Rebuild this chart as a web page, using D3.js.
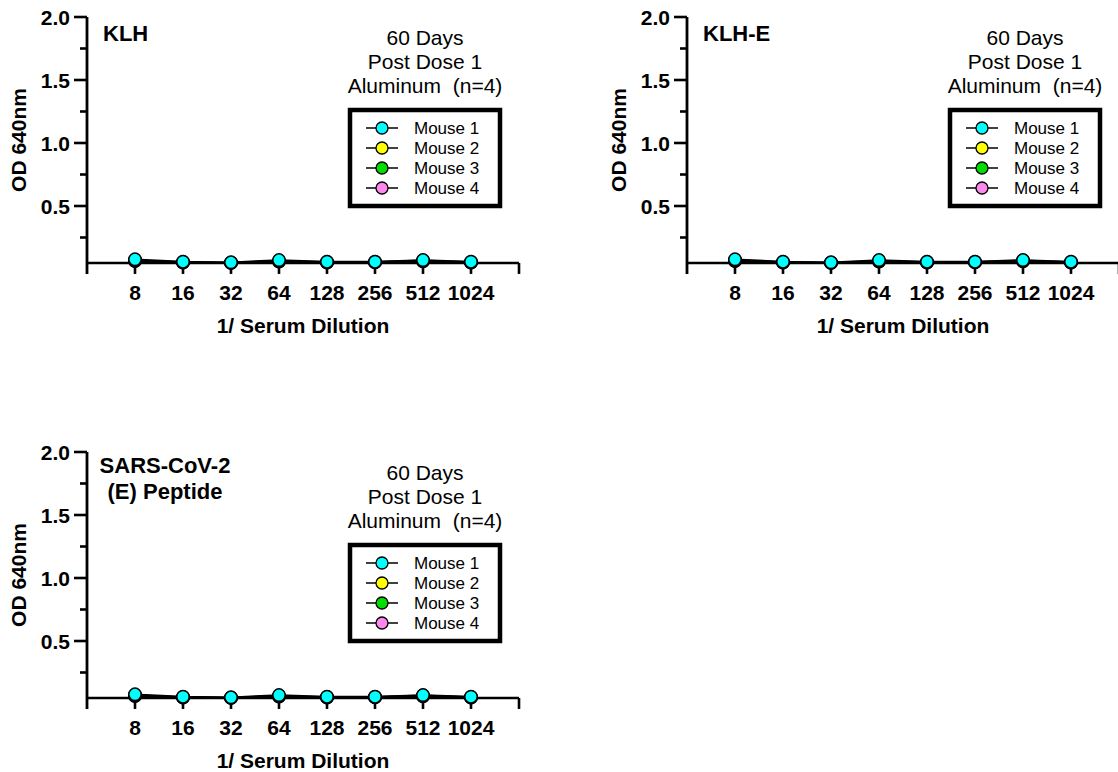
<!DOCTYPE html>
<html>
<head>
<meta charset="utf-8">
<script src="https://cdn.jsdelivr.net/npm/d3@7"></script>
<style>
  body { margin: 0; background: #fff; }
  svg text { font-family: Arial, "Liberation Sans", sans-serif; fill: #000; }
</style>
</head>
<body>
<svg id="chart" width="1118" height="772"></svg>
<script>
"use strict";

/* ── Data ─────────────────────────────────────────────── */
const dilutions = ["8", "16", "32", "64", "128", "256", "512", "1024"];
const yTicks = [0.5, 1.0, 1.5, 2.0];
const yMinorTicks = [0.25, 0.75, 1.25, 1.75];

const mouse1 = [0.077, 0.058, 0.053, 0.071, 0.058, 0.058, 0.071, 0.058];
const mouse2 = [0.070, 0.055, 0.050, 0.065, 0.055, 0.056, 0.068, 0.054];
const mouse3 = [0.066, 0.052, 0.049, 0.061, 0.052, 0.054, 0.063, 0.052];
const mouse4 = [0.062, 0.050, 0.048, 0.058, 0.050, 0.052, 0.060, 0.050];

const seriesNames = ["Mouse 1", "Mouse 2", "Mouse 3", "Mouse 4"];
const seriesColors = ["#00ffff", "#ffff00", "#00dd00", "#ff88ee"];
const seriesValues = [mouse1, mouse2, mouse3, mouse4];

const panelTitles = [["KLH"], ["KLH-E"], ["SARS-CoV-2", "(E) Peptide"]];
const noteLines = ["60 Days", "Post Dose 1", "Aluminum  (n=4)"];

/* ── Layout ───────────────────────────────────────────── */
const panelOrigins = [[87, 17], [687, 17], [87, 452]];
const iW = 432;
const xAxisVal = 0.048;

const svg = d3.select("#chart");

const x = d3.scaleLinear().domain([0, 9]).range([0, iW]);
const y = d3.scaleLinear().domain([0, 2]).range([252, 0]);

panelOrigins.forEach((o, pi) => {
  const g = svg.append("g").attr("transform", `translate(${o[0]},${o[1]})`);
  const axY = y(xAxisVal);

  /* Y axis */
  g.append("line")
    .attr("x1", 0).attr("x2", 0)
    .attr("y1", y(2)).attr("y2", axY + 11)
    .attr("stroke", "#000").attr("stroke-width", 2.8);

  g.selectAll(".ymaj").data(yTicks).enter().append("line")
    .attr("x1", -13).attr("x2", 0)
    .attr("y1", (d) => y(d)).attr("y2", (d) => y(d))
    .attr("stroke", "#000").attr("stroke-width", 2.6);

  g.selectAll(".ymin").data(yMinorTicks).enter().append("line")
    .attr("x1", -7).attr("x2", 0)
    .attr("y1", (d) => y(d)).attr("y2", (d) => y(d))
    .attr("stroke", "#000").attr("stroke-width", 2.6);

  g.selectAll(".ylab").data(yTicks).enter().append("text")
    .attr("x", -17).attr("y", (d) => y(d))
    .attr("dy", "0.36em")
    .attr("text-anchor", "end")
    .attr("font-size", 21).attr("font-weight", "bold")
    .text((d) => d.toFixed(1));

  g.append("text")
    .attr("transform", `translate(-61,123) rotate(-90)`)
    .attr("x", 0).attr("y", 0)
    .attr("text-anchor", "middle")
    .attr("font-size", 21).attr("font-weight", "bold")
    .text("OD 640nm");

  /* X axis */
  g.append("line")
    .attr("x1", 0).attr("x2", x(9))
    .attr("y1", axY).attr("y2", axY)
    .attr("stroke", "#000").attr("stroke-width", 2.4);

  g.selectAll(".xt").data(d3.range(1, 10)).enter().append("line")
    .attr("x1", (d) => x(d)).attr("x2", (d) => x(d))
    .attr("y1", axY).attr("y2", axY + 11)
    .attr("stroke", "#000").attr("stroke-width", 2.6);

  g.selectAll(".xlab").data(dilutions).enter().append("text")
    .attr("x", (d, i) => x(i + 1)).attr("y", axY + 37)
    .attr("text-anchor", "middle")
    .attr("font-size", 21).attr("font-weight", "bold")
    .text((d) => d);

  g.append("text")
    .attr("x", 216).attr("y", axY + 70)
    .attr("text-anchor", "middle")
    .attr("font-size", 21).attr("font-weight", "bold")
    .text("1/ Serum Dilution");

  /* Series (Mouse 1 drawn last, on top) */
  const line = d3.line().x((d, i) => x(i + 1)).y((d) => y(d));
  for (let s = seriesValues.length - 1; s >= 0; s--) {
    g.append("path").datum(seriesValues[s])
      .attr("d", line)
      .attr("fill", "none").attr("stroke", "#000").attr("stroke-width", 1.8);
  }
  for (let s = seriesValues.length - 1; s >= 0; s--) {
    g.selectAll(null).data(seriesValues[s]).enter().append("circle")
      .attr("cx", (d, i) => x(i + 1)).attr("cy", (d) => y(d))
      .attr("r", 6.2)
      .attr("fill", seriesColors[s])
      .attr("stroke", "#000").attr("stroke-width", 1.5);
  }

  /* Title */
  const t = panelTitles[pi];
  if (t.length === 1) {
    g.append("text")
      .attr("x", 16).attr("y", 24)
      .attr("font-size", 22).attr("font-weight", "bold")
      .text(t[0]);
  } else {
    g.selectAll(".ttl").data(t).enter().append("text")
      .attr("x", 78).attr("y", (d, i) => 21 + i * 26)
      .attr("text-anchor", "middle")
      .attr("font-size", 22).attr("font-weight", "bold")
      .text((d) => d);
  }

  /* Note */
  g.selectAll(".note").data(noteLines).enter().append("text")
    .attr("x", 338).attr("y", (d, i) => 28 + i * 24)
    .attr("text-anchor", "middle")
    .attr("font-size", 21)
    .style("white-space", "pre")
    .text((d) => d);

  /* Legend */
  const lg = g.append("g").attr("transform", "translate(263,93)");
  lg.append("rect")
    .attr("x", 0).attr("y", 0).attr("width", 150).attr("height", 96)
    .attr("fill", "#fff").attr("stroke", "#000").attr("stroke-width", 4.5);
  seriesNames.forEach((name, i) => {
    const cy = 18 + i * 20;
    lg.append("line")
      .attr("x1", 16).attr("x2", 48).attr("y1", cy).attr("y2", cy)
      .attr("stroke", "#000").attr("stroke-width", 1.5);
    lg.append("circle")
      .attr("cx", 32).attr("cy", cy).attr("r", 6)
      .attr("fill", seriesColors[i])
      .attr("stroke", "#000").attr("stroke-width", 1.3);
    lg.append("text")
      .attr("x", 64).attr("y", cy).attr("dy", "0.36em")
      .attr("font-size", 17)
      .text(name);
  });
});
</script>
</body>
</html>
